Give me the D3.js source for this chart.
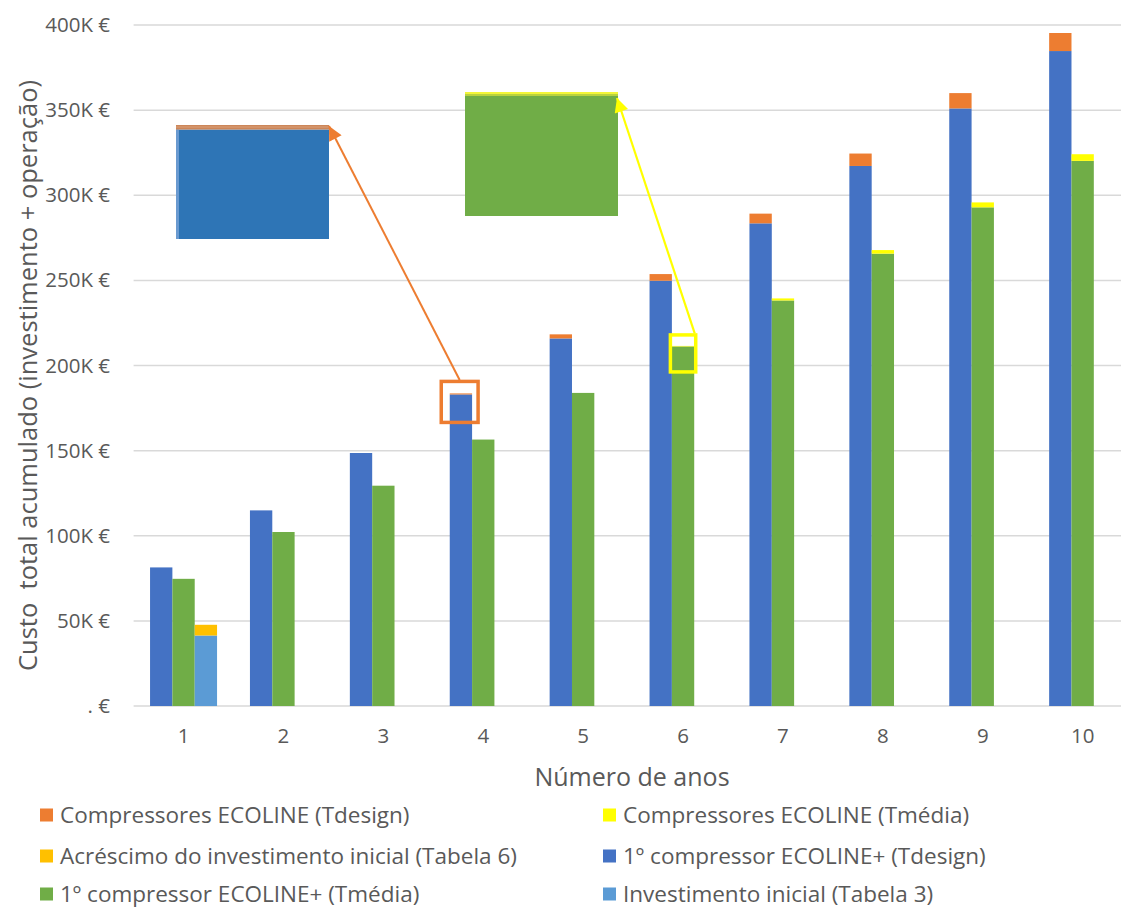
<!DOCTYPE html>
<html>
<head>
<meta charset="utf-8">
<script src="https://cdn.jsdelivr.net/npm/d3@7"></script>
<style>
  body { margin: 0; background: #fff; }
  svg { display: block; font-family: "Open Sans", "Noto Sans", sans-serif; }
</style>
</head>
<body>
<svg id="chart" width="1121" height="910"></svg>
<script>
// Cumulative cost per year (€)
const years = ["1", "2", "3", "4", "5", "6", "7", "8", "9", "10"];
const ecolinePlusTdesign = [81400, 114900, 148600, 183000, 215900, 249800, 283500, 317200, 351000, 384700];
const ecolineTdesign     = [0, 0, 0, 600, 2400, 3900, 5700, 7300, 9000, 10600];
const ecolinePlusTmedia  = [74700, 102200, 129400, 156500, 183900, 211200, 238200, 265700, 292900, 320200];
const ecolineTmedia      = [0, 0, 0, 0, 0, 300, 1200, 2100, 2900, 3900];
const investimentoInicial = [41400, 0, 0, 0, 0, 0, 0, 0, 0, 0];
const acrescimoInvestimento = [6300, 0, 0, 0, 0, 0, 0, 0, 0, 0];
const yTicks = [0, 50000, 100000, 150000, 200000, 250000, 300000, 350000, 400000];

const legendItems = [
  { name: "Compressores ECOLINE (Tdesign)", color: "#ED7D31" },
  { name: "Compressores ECOLINE (Tmédia)", color: "#FFFF00" },
  { name: "Acréscimo do investimento inicial (Tabela 6)", color: "#FFC000" },
  { name: "1º compressor ECOLINE+ (Tdesign)", color: "#4472C4" },
  { name: "1º compressor ECOLINE+ (Tmédia)", color: "#70AD47" },
  { name: "Investimento inicial (Tabela 3)", color: "#5B9BD5" }
];

// Three stacked columns per year: base + increment on top
const stacks = [
  { slot: 0, base: ecolinePlusTdesign, top: ecolineTdesign, baseColor: "#4472C4", topColor: "#ED7D31" },
  { slot: 1, base: ecolinePlusTmedia, top: ecolineTmedia, baseColor: "#70AD47", topColor: "#FFFF00" },
  { slot: 2, base: investimentoInicial, top: acrescimoInvestimento, baseColor: "#5B9BD5", topColor: "#FFC000" }
];

const svg = d3.select("#chart");
const plot = { left: 133.6, right: 1132.6, top: 25, bottom: 706 };
const textColor = "#595959";

const x = d3.scaleBand().domain(years).range([plot.left, plot.right]).paddingInner(0).paddingOuter(0);
const groupW = 67;
const xs = d3.scaleBand().domain([0, 1, 2]).range([0, groupW]);
const groupOffset = (x.bandwidth() - groupW) / 2;
const y = d3.scaleLinear().domain([0, 400000]).range([plot.bottom, plot.top]);

// Gridlines
svg.append("g").selectAll("line").data(yTicks).join("line")
  .attr("x1", plot.left).attr("x2", plot.right)
  .attr("y1", d => y(d)).attr("y2", d => y(d))
  .attr("stroke", "#d9d9d9").attr("stroke-width", 1.5);

// Y axis labels
const fmt = v => v === 0 ? ". €" : (v / 1000) + "K €";
const yAxis = d3.axisLeft(y).tickValues(yTicks).tickFormat(fmt).tickSize(0).tickPadding(0);
svg.append("g").attr("transform", "translate(110,0)").call(yAxis)
  .call(g => g.select(".domain").remove())
  .call(g => g.selectAll("text").attr("fill", textColor).attr("font-size", 20.5).attr("font-family", "'Open Sans', sans-serif"));

// X axis labels
const xAxis = d3.axisBottom(x).tickSize(0).tickPadding(0);
svg.append("g").attr("transform", `translate(0,${plot.bottom + 22})`).call(xAxis)
  .call(g => g.select(".domain").remove())
  .call(g => g.selectAll("text").attr("fill", textColor).attr("font-size", 20.5).attr("font-family", "'Open Sans', sans-serif"));

// Bars
const barG = svg.append("g");
stacks.forEach(s => {
  const rows = years.map((yr, i) => ({ yr, b: s.base[i], t: s.top[i] })).filter(d => d.b + d.t > 0);
  const bx = d => x(d.yr) + groupOffset + xs(s.slot);
  barG.append("g").selectAll("rect").data(rows).join("rect")
    .attr("x", bx).attr("width", xs.bandwidth())
    .attr("y", d => y(d.b)).attr("height", d => y(0) - y(d.b))
    .attr("fill", s.baseColor);
  barG.append("g").selectAll("rect").data(rows.filter(d => d.t > 0)).join("rect")
    .attr("x", bx).attr("width", xs.bandwidth())
    .attr("y", d => y(d.b + d.t)).attr("height", d => y(d.b) - y(d.b + d.t))
    .attr("fill", s.topColor);
});

// Magnified insets with callouts
const defs = svg.append("defs");
function marker(id, color) {
  defs.append("marker").attr("id", id)
    .attr("viewBox", "0 0 10 10").attr("refX", 10).attr("refY", 5)
    .attr("markerWidth", 15).attr("markerHeight", 14)
    .attr("markerUnits", "userSpaceOnUse").attr("orient", "auto")
    .append("path").attr("d", "M0,0 L10,5 L0,10 Z").attr("fill", color);
}
marker("arrowOrange", "#ED7D31");
marker("arrowYellow", "#FFFF00");

const ann = svg.append("g");
const bw = xs.bandwidth();

// Year 4, Tdesign column: inset
const o = { x0: 176, x1: 329, y0: 125, y1: 239 };
ann.append("rect").attr("x", o.x0).attr("y", o.y0 + 4.5).attr("width", o.x1 - o.x0).attr("height", o.y1 - o.y0 - 4.5).attr("fill", "#2E75B6");
ann.append("rect").attr("x", o.x0).attr("y", o.y0 + 4.5).attr("width", 3).attr("height", o.y1 - o.y0 - 4.5).attr("fill", "#6A9AD0");
ann.append("rect").attr("x", o.x0).attr("y", o.y0).attr("width", o.x1 - o.x0).attr("height", 4.5).attr("fill", "#CC8659");
ann.append("rect").attr("x", o.x0).attr("y", o.y0 + 1.5).attr("width", o.x1 - o.x0).attr("height", 1).attr("fill", "#D9A07A");

const b4x = x("4") + groupOffset + xs(0);
const b4top = y(ecolinePlusTdesign[3] + ecolineTdesign[3]);
const box4 = { x: b4x - 8.5, y: b4top - 12, w: bw + 14.5, h: 41 };
ann.append("rect").attr("x", box4.x).attr("y", box4.y).attr("width", box4.w).attr("height", box4.h)
  .attr("fill", "none").attr("stroke", "#ED7D31").attr("stroke-width", 3.5);
ann.append("line").attr("x1", box4.x + box4.w / 2).attr("y1", box4.y - 1.5).attr("x2", o.x1).attr("y2", o.y0 + 1)
  .attr("stroke", "#ED7D31").attr("stroke-width", 2).attr("marker-end", "url(#arrowOrange)");

// Year 6, Tmédia column: inset
const g6 = { x0: 465, x1: 618, y0: 92, y1: 216 };
ann.append("rect").attr("x", g6.x0).attr("y", g6.y0).attr("width", g6.x1 - g6.x0).attr("height", g6.y1 - g6.y0).attr("fill", "#70AD47");
ann.append("rect").attr("x", g6.x0).attr("y", g6.y0).attr("width", g6.x1 - g6.x0).attr("height", 2).attr("fill", "#F2F53A");
ann.append("rect").attr("x", g6.x0).attr("y", g6.y0 + 2).attr("width", g6.x1 - g6.x0).attr("height", 2).attr("fill", "#B9D23F");

const b6x = x("6") + groupOffset + xs(1);
const b6top = y(ecolinePlusTmedia[5] + ecolineTmedia[5]);
const box6 = { x: b6x - 1.5, y: b6top - 11, w: bw + 3, h: 37 };
ann.append("rect").attr("x", box6.x).attr("y", box6.y).attr("width", box6.w).attr("height", box6.h)
  .attr("fill", "none").attr("stroke", "#FFFF00").attr("stroke-width", 3.5);
ann.append("line").attr("x1", box6.x + box6.w - 1).attr("y1", box6.y - 1.5).attr("x2", g6.x1 - 1).attr("y2", g6.y0 + 6)
  .attr("stroke", "#FFFF00").attr("stroke-width", 2.2).attr("marker-end", "url(#arrowYellow)");

// Axis titles
svg.append("text")
  .attr("transform", `translate(37,${(plot.top + plot.bottom) / 2 + 10}) rotate(-90)`)
  .attr("text-anchor", "middle").attr("fill", textColor).attr("font-size", 25.5)
  .attr("xml:space", "preserve")
  .text("Custo  total acumulado (investimento + operação)");

svg.append("text")
  .attr("x", 632).attr("y", 786)
  .attr("text-anchor", "middle").attr("fill", textColor).attr("font-size", 25)
  .text("Número de anos");

// Legend: two columns, three rows
const legendCols = [40, 603];
const legendRows = [815, 856, 894];
const lg = svg.append("g").selectAll("g").data(legendItems).join("g")
  .attr("transform", (d, i) => `translate(${legendCols[i % 2]},${legendRows[Math.floor(i / 2)]})`);
lg.append("rect").attr("x", 0).attr("y", -6.5).attr("width", 13).attr("height", 13).attr("fill", d => d.color);
lg.append("text").attr("x", 20).attr("y", 0).attr("dy", "0.35em")
  .attr("fill", textColor).attr("font-size", 22.5)
  .text(d => d.name);
</script>
</body>
</html>
